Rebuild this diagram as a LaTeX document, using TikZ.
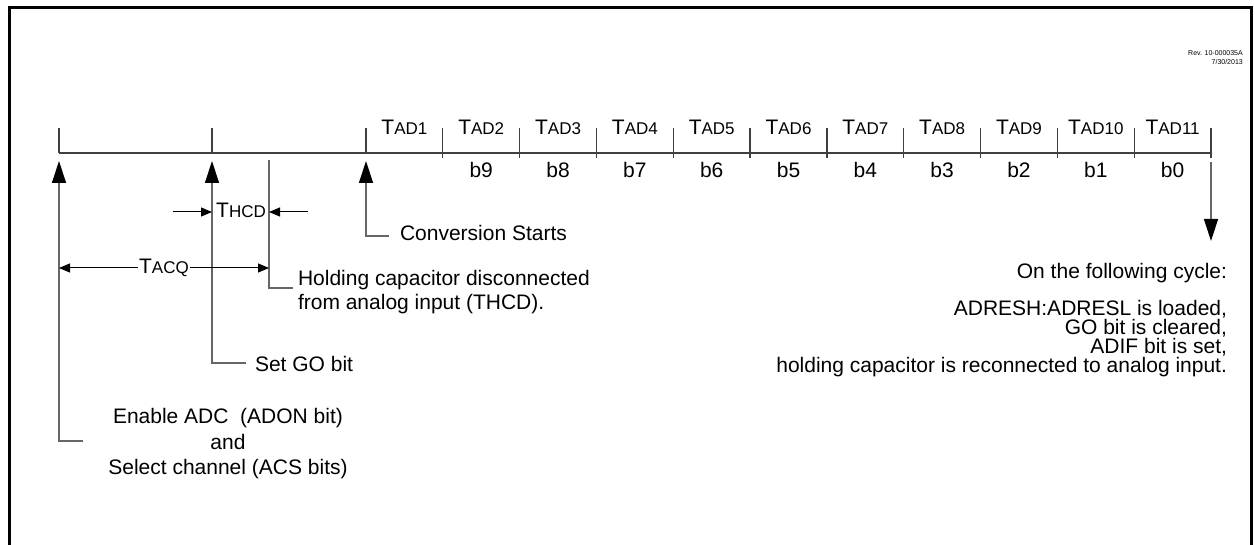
\documentclass[tikz,border=0pt]{standalone}
\usepackage{fontspec}
\setmainfont{Liberation Sans}
\usetikzlibrary{arrows.meta}
\newcommand{\tsub}[2]{#1{\fontsize{17}{17}\selectfont #2}}
\begin{document}
\begin{tikzpicture}[x=1pt,y=-1pt,
  txt/.style={font=\fontsize{21}{24}\selectfont, inner sep=0pt, outer sep=0pt},
  tiny/.style={font=\fontsize{7}{8}\selectfont, inner sep=0pt, anchor=base east},
  tline/.style={draw=black!75, line width=1.3pt},
  lead/.style={draw=black!60, line width=1.3pt},
  upar/.style={lead, -{Triangle[width=14pt,length=22pt,color=black]}},
  dimar/.style={draw=black, line width=1pt, -{Triangle[width=9pt,length=11pt]}},
  dimdbl/.style={draw=black, line width=1pt, {Triangle[width=9pt,length=11pt]}-{Triangle[width=9pt,length=11pt]}},
]
\useasboundingbox (0,0) rectangle (1255,545);
\fill[white] (0,0) rectangle (1255,545);
\draw[line width=3pt, line join=miter] (9,546) -- (9,8) -- (1251,8) -- (1251,546);

% revision
\node[tiny] (rev1) at (1243,56) {Rev. 10-000035A};
\node[tiny] (rev2) at (1243,65) {7/30/2013};

% timeline
\coordinate (t0) at (59,153);
\coordinate (tend) at (1211,153);
\draw[tline] (t0) -- (tend);
\foreach \x in {59,212,366} \draw[tline] (\x,128) -- (\x,153);
\foreach \i in {1,...,11} \draw[tline] ({366+76.82*\i},128) -- ({366+76.82*\i},158);

% TAD labels
\foreach \i in {1,...,11}
  \node[txt, anchor=base] (tad\i) at ({366+76.82*(\i-0.5)},135) {\tsub{T}{AD\i}};
% bit labels
\foreach \i/\b in {2/9,3/8,4/7,5/6,6/5,7/4,8/3,9/2,10/1,11/0}
  \node[txt, anchor=base] (b\b) at ({366+76.82*(\i-0.5)},178) {b\b};

% up arrows with leaders
\coordinate (a0) at (59,161);
\coordinate (a1) at (212,161);
\coordinate (a2) at (366,161);
\coordinate (l0) at (83,441);
\coordinate (l1) at (246,363);
\coordinate (l2) at (389,236);
\draw[upar] (l0) -| (a0);
\draw[upar] (l1) -| (a1);
\draw[upar] (l2) -| (a2);

% holding capacitor line
\coordinate (h0) at (269,160);
\coordinate (h1) at (293,288);
\draw[lead] (h0) |- (h1);

% down arrow
\coordinate (d0) at (1211,162);
\coordinate (d1) at (1211,241);
\draw[upar] (d0) -- (d1);

% THCD
\coordinate (hl) at (173,212);
\coordinate (hr) at (308,212);
\coordinate (hla) at (212,212);
\coordinate (hra) at (269,212);
\draw[dimar] (hl) -- (hla);
\draw[dimar] (hr) -- (hra);
\node[txt, anchor=base] (thcd) at (241,218) {\tsub{T}{HCD}};

% TACQ
\coordinate (q0) at (59,268);
\coordinate (q1) at (269,268);
\draw[dimdbl] (q0) -- (q1);
\node[txt, anchor=base, fill=white, inner xsep=1pt, text depth=0pt] (tacq) at (164,274) {\tsub{T}{ACQ}};

% texts
\node[txt, anchor=base west] (conv) at (400,241) {Conversion Starts};
\node[txt, anchor=base west] (hold1) at (298,285) {Holding capacitor disconnected};
\node[txt, anchor=base west] (hold2) at (298,309) {from analog input (THCD).};
\node[txt, anchor=base west] (setgo) at (255,371) {Set GO bit};
\node[txt, anchor=base] (en1) at (228,423) {Enable ADC\ \ (ADON bit)};
\node[txt, anchor=base] (en2) at (228,449) {and};
\node[txt, anchor=base] (en3) at (228,474) {Select channel (ACS bits)};

\node[txt, anchor=base east] (r1) at (1227,279) {On the following cycle:};
\node[txt, anchor=base east] (r2) at (1227,315) {ADRESH:ADRESL is loaded,};
\node[txt, anchor=base east] (r3) at (1227,334) {GO bit is cleared,};
\node[txt, anchor=base east] (r4) at (1227,353) {ADIF bit is set,};
\node[txt, anchor=base east] (r5) at (1227,372) {holding capacitor is reconnected to analog input.};
\end{tikzpicture}
\end{document}
